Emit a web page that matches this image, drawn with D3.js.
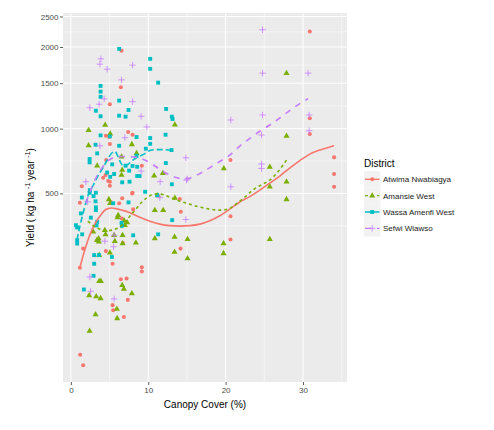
<!DOCTYPE html>
<html>
<head>
<meta charset="utf-8">
<script src="https://cdn.jsdelivr.net/npm/d3@7"></script>
<style>
  body { margin: 0; background: #fff; }
  text { font-family: "Liberation Sans", Arial, sans-serif; }
</style>
</head>
<body>
<div id="chart"></div>
<script>
// ---------- Data (canopy cover %, yield kg/ha/yr) ----------
const districts = ["Atwima Nwabiagya", "Amansie West", "Wassa Amenfi West", "Sefwi Wiawso"];
const districtColors = ["#F8766D", "#7CAE00", "#00BFC4", "#C77CFF"];
const xTicks = [0, 10, 20, 30];
const yTicks = [500, 1000, 1500, 2000, 2500];

const atwimaPoints = [[6.55,1945],[6.46,1450],[5.04,1252],[7.40,968],[7.97,943],[4.52,934],[4.95,922],[5.04,860],[4.56,729],[9.17,686],[4.48,619],[4.17,601],[5.04,574],[5.04,548],[7.97,504],[1.16,446],[5.17,448],[6.24,443],[6.63,471],[8.05,410],[1.59,236],[1.16,173],[4.52,227],[5.39,185],[6.46,141],[7.20,143],[7.36,94],[5.39,84],[5.47,75],[6.85,64],[9.17,174],[9.17,162],[1.20,22],[1.59,15],[6.59,364],[7.92,500],[14.08,467],[14.21,398],[20.63,729],[20.63,375],[20.63,271],[14.17,236],[30.88,2245],[30.88,1102],[30.88,949],[34.02,750],[34.02,626],[34.02,541],[1.42,544],[4.82,578],[6.72,257]];
const amansiePoints = [[4.43,1035],[13.44,1038],[2.29,984],[5.08,952],[2.29,848],[7.88,857],[3.40,686],[10.76,614],[11.89,631],[6.55,619],[11.24,488],[10.85,406],[11.93,406],[4.91,465],[5.08,443],[6.11,380],[6.03,369],[6.89,353],[6.98,332],[7.27,345],[2.88,303],[3.36,268],[3.58,275],[4.39,310],[4.48,291],[5.59,288],[5.68,264],[6.68,288],[6.68,255],[8.40,258],[3.62,262],[10.85,275],[13.40,281],[13.40,224],[5.04,221],[3.66,213],[6.63,126],[6.85,117],[7.88,107],[2.36,103],[3.27,101],[3.84,97],[3.66,136],[3.88,136],[3.19,68],[2.42,45],[5.94,77],[5.98,62],[15.08,272],[15.08,202],[19.73,255],[19.73,219],[25.71,272],[19.77,666],[25.71,677],[25.71,541],[27.87,1629],[27.87,931],[27.87,574],[27.87,465],[8.49,782],[13.44,473],[6.63,654],[6.55,755]];
const wassaPoints = [[6.24,1972],[10.25,1826],[10.25,1687],[11.28,1507],[3.84,1466],[3.84,1397],[3.84,1335],[6.24,1292],[3.23,1181],[7.45,1189],[6.24,1129],[7.07,1119],[3.84,1123],[12.31,1200],[13.05,1119],[13.14,1095],[3.84,937],[5.04,928],[8.49,922],[10.25,913],[12.24,943],[3.19,854],[6.24,845],[10.25,862],[9.69,820],[2.42,737],[2.42,711],[8.49,763],[8.57,678],[7.53,650],[5.08,607],[6.63,570],[7.58,574],[13.05,557],[3.23,504],[2.42,504],[1.42,476],[9.60,510],[7.45,448],[3.19,454],[3.23,421],[1.29,389],[0.65,332],[0.81,322],[0.81,268],[0.81,255],[1.46,292],[3.01,213],[3.62,213],[3.01,185],[2.93,150],[1.68,116],[5.30,207],[11.28,292],[13.09,356],[6.55,343],[6.59,329],[8.05,288],[5.47,443],[2.58,368],[3.23,406],[3.40,348],[3.32,331],[13.01,809],[12.27,706],[11.15,490],[8.57,612],[4.69,637],[5.59,626],[7.07,686],[7.97,684],[8.88,612],[3.40,782],[5.34,696],[2.45,520],[2.93,484]];
const sefwiPoints = [[3.88,1826],[3.75,1751],[4.69,1682],[7.97,1737],[6.55,1542],[4.30,1312],[3.66,1252],[7.97,1281],[2.45,1214],[9.08,1123],[9.82,1016],[6.98,916],[3.75,845],[11.54,574],[1.94,574],[2.45,147],[2.55,112],[5.59,96],[5.52,243],[4.39,264],[2.16,451],[9.08,647],[14.86,747],[15.03,592],[14.86,359],[11.50,475],[24.77,2273],[24.77,1629],[30.66,1629],[20.67,1085],[24.77,1136],[30.79,980],[24.64,940],[24.64,699],[24.64,666],[20.67,541],[14.95,585],[5.59,288],[30.80,1136]];

// loess smooths
const atwimaSmooth = [[1.16,173],[1.68,220],[2.20,268],[2.71,310],[3.23,346],[3.75,375],[4.26,401],[4.78,414],[5.30,417],[5.81,414],[6.59,406],[7.62,393],[8.91,370],[10.21,351],[11.50,337],[12.79,330],[14.08,328],[15.37,330],[16.67,337],[17.96,353],[19.25,377],[20.54,411],[21.83,450],[23.13,481],[24.42,520],[25.71,565],[27.00,612],[28.29,669],[29.59,725],[30.88,776],[32.17,809],[33.46,834],[34.02,845]];
const amansieSmooth = [[2.20,351],[2.97,328],[3.75,314],[4.52,307],[5.30,310],[6.07,319],[6.85,341],[7.62,375],[8.40,411],[9.17,450],[9.95,478],[10.72,496],[11.50,496],[12.27,487],[13.05,472],[14.08,455],[15.37,438],[16.67,422],[17.96,411],[19.25,406],[20.28,411],[21.32,438],[22.48,478],[23.51,520],[24.68,555],[25.71,585],[26.74,640],[27.87,729]];
const wassaSmooth = [[0.78,268],[1.16,327],[1.68,406],[2.20,484],[2.84,546],[3.49,612],[4.13,669],[4.78,737],[5.30,785],[5.68,797],[6.07,760],[6.46,706],[6.85,684],[7.36,695],[8.01,729],[8.79,756],[9.56,780],[10.21,805],[10.98,813],[11.89,813],[13.05,805]];
const sefwiSmooth = [[1.94,444],[2.45,508],[3.10,585],[3.75,647],[4.39,699],[5.04,733],[5.81,753],[6.59,757],[7.36,757],[8.14,753],[8.91,745],[9.69,725],[10.47,699],[11.24,669],[12.02,640],[12.79,619],[13.57,602],[14.34,595],[15.12,595],[15.89,609],[16.67,629],[17.96,672],[19.25,718],[20.54,768],[21.83,843],[23.13,909],[24.42,975],[25.71,1035],[27.00,1105],[28.29,1183],[29.59,1259],[30.66,1315]];

const pointSets = [atwimaPoints, amansiePoints, wassaPoints, sefwiPoints];
const smoothSets = [atwimaSmooth, amansieSmooth, wassaSmooth, sefwiSmooth];

// ---------- Styles ----------
const W = 494, H = 430;
const panel = { left: 63, right: 347, top: 13, bottom: 382 };
const dashes = [null, "3,3", "6,3", "6,6"];

const plusSymbol = {
  draw(ctx, size) {
    const r = Math.sqrt(size) / 2;
    ctx.moveTo(-r, 0); ctx.lineTo(r, 0);
    ctx.moveTo(0, -r); ctx.lineTo(0, r);
  }
};
const shapes = [d3.symbolCircle, d3.symbolTriangle, d3.symbolSquare, plusSymbol];
const shapeSizes = [13, 16, 15, 42];

// ---------- Scales (ggplot-like 5% expansion) ----------
const allXY = pointSets.flat().concat(smoothSets.flat());
const [xMin, xMax] = d3.extent(allXY, d => d[0]);
const xPad = (xMax - xMin) * 0.05;
const x = d3.scaleLinear()
  .domain([xMin - xPad, xMax + xPad])
  .range([panel.left, panel.right]);

const [tMin, tMax] = d3.extent(allXY, d => Math.cbrt(d[1]));
const tPad = (tMax - tMin) * 0.05;
const y = d3.scalePow().exponent(1 / 3)
  .domain([Math.pow(tMin - tPad, 3), Math.pow(tMax + tPad, 3)])
  .range([panel.bottom, panel.top]);

// minor breaks halfway between majors in transformed space
function minorBreaks(breaks, fwd, inv, domain) {
  const b = breaks.map(fwd);
  const lo = fwd(domain[0]), hi = fwd(domain[1]);
  const bd = b[1] - b[0];
  if (lo < b[0]) b.unshift(b[0] - bd);
  if (hi > b[b.length - 1]) b.push(b[b.length - 1] + bd);
  const out = [];
  for (let i = 0; i < b.length - 1; i++) out.push((b[i] + b[i + 1]) / 2);
  return out.filter(v => v >= lo && v <= hi).map(inv);
}
const xMinor = minorBreaks(xTicks, d => d, d => d, x.domain());
const yMinor = minorBreaks(yTicks, Math.cbrt, d => d * d * d, y.domain());

// ---------- Draw ----------
const svg = d3.select("#chart").append("svg")
  .attr("width", W).attr("height", H);

svg.append("rect")
  .attr("x", panel.left).attr("y", panel.top)
  .attr("width", panel.right - panel.left)
  .attr("height", panel.bottom - panel.top)
  .attr("fill", "#EBEBEB");

const grid = svg.append("g").attr("stroke", "#fff").attr("fill", "none");
grid.selectAll(".ymin").data(yMinor).enter().append("line")
  .attr("x1", panel.left).attr("x2", panel.right)
  .attr("y1", d => y(d)).attr("y2", d => y(d))
  .attr("stroke-width", 0.5);
grid.selectAll(".xmin").data(xMinor).enter().append("line")
  .attr("y1", panel.top).attr("y2", panel.bottom)
  .attr("x1", d => x(d)).attr("x2", d => x(d))
  .attr("stroke-width", 0.5);
grid.selectAll(".ymaj").data(yTicks).enter().append("line")
  .attr("x1", panel.left).attr("x2", panel.right)
  .attr("y1", d => y(d)).attr("y2", d => y(d))
  .attr("stroke-width", 1);
grid.selectAll(".xmaj").data(xTicks).enter().append("line")
  .attr("y1", panel.top).attr("y2", panel.bottom)
  .attr("x1", d => x(d)).attr("x2", d => x(d))
  .attr("stroke-width", 1);

// Axes
const xAxis = svg.append("g")
  .attr("transform", `translate(0, ${panel.bottom})`)
  .call(d3.axisBottom(x).tickValues(xTicks).tickSize(3).tickPadding(2.5).tickFormat(d3.format("d")));
const yAxis = svg.append("g")
  .attr("transform", `translate(${panel.left}, 0)`)
  .call(d3.axisLeft(y).tickValues(yTicks).tickSize(3).tickPadding(1.5).tickFormat(d3.format("d")));
[xAxis, yAxis].forEach(a => {
  a.select(".domain").remove();
  a.selectAll("line").attr("stroke", "#333").attr("stroke-width", 0.8);
  a.selectAll("text")
    .attr("fill", "#4D4D4D")
    .attr("font-size", 8)
    .attr("font-family", "'Liberation Sans', Arial, sans-serif");
});

// Points
pointSets.forEach((pts, i) => {
  const sym = d3.symbol().type(shapes[i]).size(shapeSizes[i]);
  svg.append("g")
    .selectAll("path")
    .data(pts)
    .enter()
    .append("path")
    .attr("transform", d => `translate(${x(d[0])}, ${y(d[1])})`)
    .attr("d", sym)
    .attr("fill", i === 3 ? "none" : districtColors[i])
    .attr("stroke", i === 3 ? districtColors[i] : "none")
    .attr("stroke-width", 0.8);
});

// Smooth lines
const line = d3.line().x(d => x(d[0])).y(d => y(d[1])).curve(d3.curveMonotoneX);
smoothSets.forEach((s, i) => {
  svg.append("path")
    .attr("d", line(s))
    .attr("fill", "none")
    .attr("stroke", districtColors[i])
    .attr("stroke-width", 1.6)
    .attr("stroke-dasharray", dashes[i]);
});

// Axis titles
svg.append("text")
  .attr("x", (panel.left + panel.right) / 2)
  .attr("y", 408)
  .attr("text-anchor", "middle")
  .attr("font-size", 10)
  .attr("fill", "#000")
  .text("Canopy Cover (%)");

const yTitle = svg.append("text")
  .attr("transform", `translate(34, ${(panel.top + panel.bottom) / 2}) rotate(-90)`)
  .attr("text-anchor", "middle")
  .attr("font-size", 10)
  .attr("fill", "#000");
yTitle.append("tspan").text("Yield ( kg ha ");
yTitle.append("tspan").attr("font-size", 7).attr("dy", -4).text("-1");
yTitle.append("tspan").attr("dy", 4).text(" year ");
yTitle.append("tspan").attr("font-size", 7).attr("dy", -4).text("-1");
yTitle.append("tspan").attr("dy", 4).text(")");

// Legend
const legend = svg.append("g");
legend.append("text")
  .attr("x", 364).attr("y", 167)
  .attr("font-size", 10)
  .attr("fill", "#000")
  .text("District");

districts.forEach((name, i) => {
  const cy = 179.3 + i * 16.35;
  const row = legend.append("g");
  row.append("rect")
    .attr("x", 364).attr("y", cy - 8.2)
    .attr("width", 16.4).attr("height", 16.4)
    .attr("fill", "#F2F2F2");
  row.append("line")
    .attr("x1", 365).attr("x2", 379.5)
    .attr("y1", cy).attr("y2", cy)
    .attr("stroke", districtColors[i])
    .attr("stroke-width", 1.4)
    .attr("stroke-dasharray", dashes[i]);
  row.append("path")
    .attr("transform", `translate(372.2, ${cy})`)
    .attr("d", d3.symbol().type(shapes[i]).size(shapeSizes[i])())
    .attr("fill", i === 3 ? "none" : districtColors[i])
    .attr("stroke", i === 3 ? districtColors[i] : "none")
    .attr("stroke-width", 0.8);
  row.append("text")
    .attr("x", 383).attr("y", cy + 3)
    .attr("font-size", 8)
    .attr("fill", "#1A1A1A")
    .text(name);
});
</script>
</body>
</html>
